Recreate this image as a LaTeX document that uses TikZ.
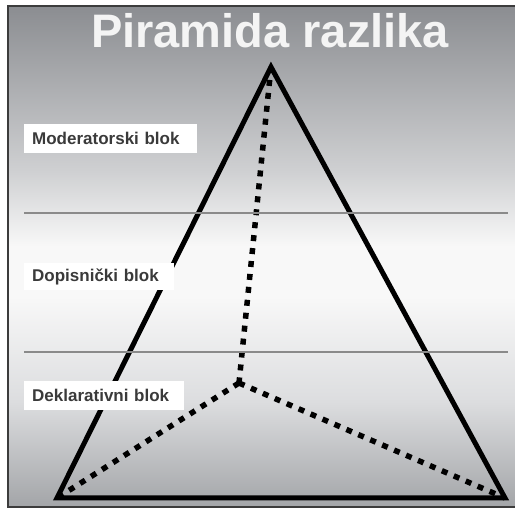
\documentclass[tikz,border=0pt]{standalone}
\usepackage{fontspec}
\setmainfont{Liberation Sans}
\definecolor{bgtop}{HTML}{8B8D91}
\definecolor{bgl2}{HTML}{CFD0D2}
\definecolor{bgmid}{HTML}{F8F8F8}
\definecolor{bgl1}{HTML}{DCDDDF}
\definecolor{bgbot}{HTML}{A3A5A8}
\definecolor{framecol}{HTML}{3C3C3C}
\definecolor{lvl}{HTML}{8A8A8A}
\definecolor{lbltext}{HTML}{3A3A3A}
\definecolor{titlecol}{HTML}{F4F4F4}
\pgfdeclareverticalshading{slidebg}{100bp}{color(0bp)=(bgbot); color(25bp)=(bgbot); color(35.5bp)=(bgl1); color(46bp)=(bgmid); color(51bp)=(bgmid); color(58.5bp)=(bgl2); color(75bp)=(bgtop); color(100bp)=(bgtop)}
\tikzset{
  edge/.style={line width=5pt, line join=miter, black},
  hidden/.style={line width=5.5pt, black, dash pattern=on 6pt off 7pt},
  level/.style={line width=1.5pt, lvl},
  lbl/.style={rectangle, fill=white, anchor=north west, inner xsep=8pt, inner ysep=0pt,
    align=left, text=lbltext, font=\fontsize{17}{20}\selectfont\bfseries},
  title/.style={text=titlecol, font=\fontsize{47}{50}\selectfont\bfseries, inner sep=0pt}
}
\begin{document}
\begin{tikzpicture}[x=1pt, y=-1pt]
\useasboundingbox (0,0) rectangle (515,510);
\shade[shading=slidebg] (8,6) rectangle (517,507);
\draw[framecol, line width=1.2pt] (517,6) -- (8,6) -- (8,507) -- (517,507);
\node[title, anchor=base] (t) at (270,48) {Piramida razlika};
\coordinate (A) at (271,67);
\coordinate (BL) at (57,498);
\coordinate (BR) at (505,498);
\coordinate (I) at (239,383);
\draw[hidden] (A) -- (I);
\draw[hidden] (I) -- (BL);
\draw[hidden] (I) -- (BR);
\draw[edge] (A) -- (BL) -- (BR) -- cycle;
\coordinate (h1l) at (24,213);
\coordinate (h1r) at (508,213);
\coordinate (h2l) at (24,352);
\coordinate (h2r) at (508,352);
\draw[level] (h1l) -- (h1r);
\draw[level] (h2l) -- (h2r);
\node[lbl, text width=157pt, minimum height=29pt] (m) at (24,124) {Moderatorski blok};
\node[lbl, text width=134pt, minimum height=27pt] (d) at (24,263) {Dopisnički blok};
\node[lbl, text width=144pt, minimum height=29pt] (k) at (24,381) {Deklarativni blok};
\end{tikzpicture}
\end{document}
